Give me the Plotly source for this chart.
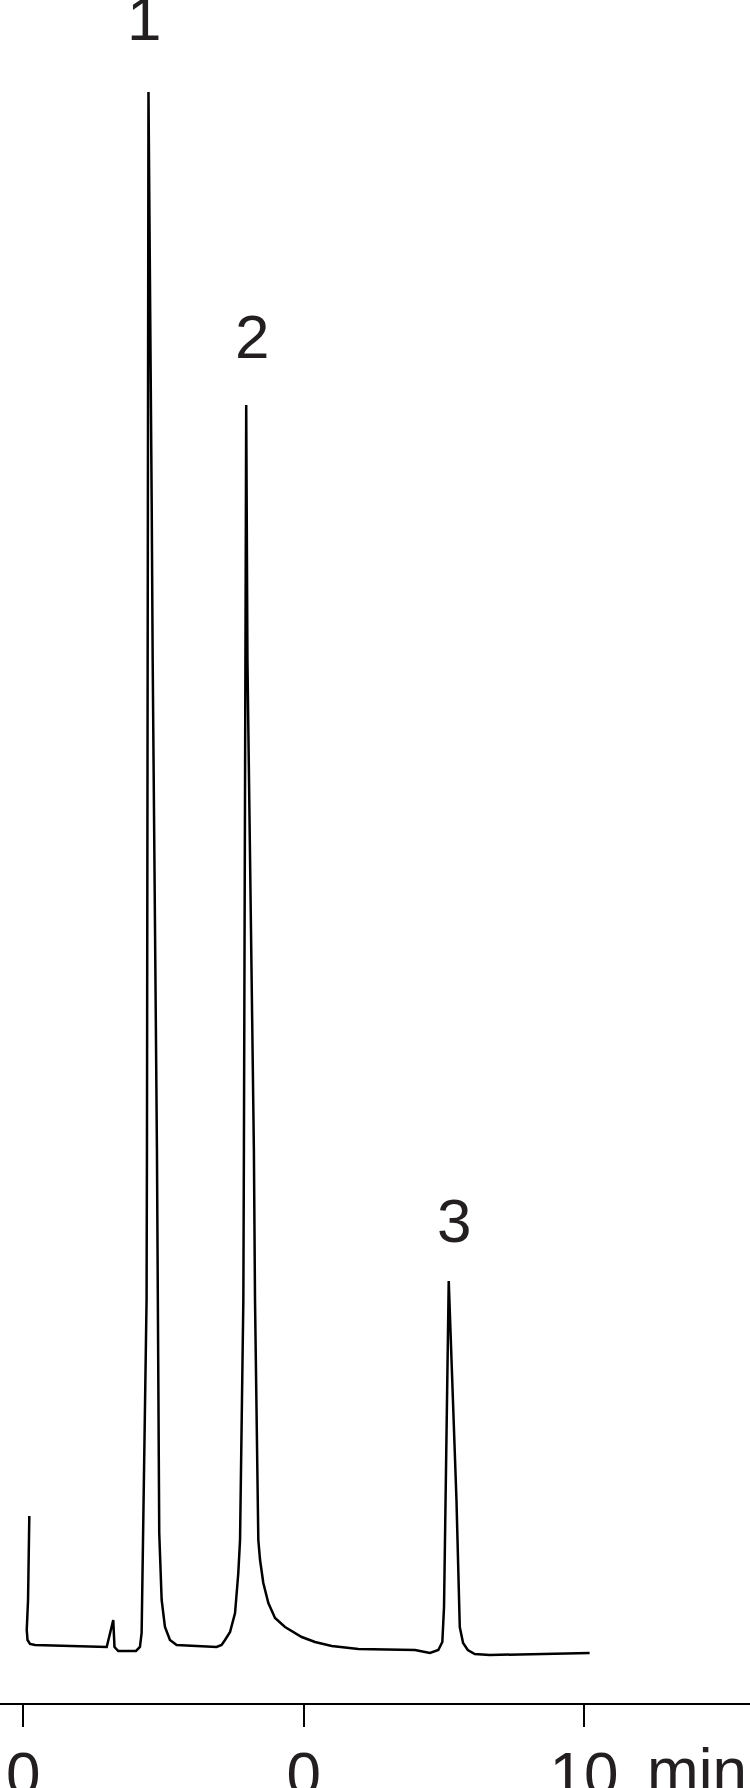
import plotly.graph_objects as go

# retention time (min) and detector signal (arbitrary units)
time_min = [0.107, 0.084, 0.061, 0.075, 0.119, 0.209, 1.487, 1.604, 1.626, 1.693,
            2.009, 2.080, 2.110, 2.150, 2.198, 2.205, 2.223, 2.232, 2.289, 2.307,
            2.383, 2.396, 2.424, 2.467, 2.526, 2.615, 2.734, 3.447, 3.536, 3.597,
            3.687, 3.776, 3.834, 3.865, 3.924, 3.934, 3.961, 3.975, 3.997, 4.112,
            4.132, 4.191, 4.222, 4.280, 4.370, 4.489, 4.667, 4.965, 5.202, 5.500,
            5.975, 6.570, 6.986, 7.164, 7.253, 7.401, 7.473, 7.503, 7.521, 7.587,
            7.725, 7.784, 7.843, 7.927, 8.051, 8.318, 10.100]
signal = [12.9, 4.5, 1.5, 0.5, 0.1, 0.0, -0.2, 2.5, -0.2, -0.6,
          -0.6, -0.2, 1.2, 14.5, 34.5, 49.5, 98.5, 155.3, 114.5, 98.5,
          49.5, 34.5, 11.2, 4.5, 1.8, 0.5, 0.0, -0.2, 0.0, 0.5,
          1.3, 3.2, 7.2, 10.5, 34.5, 49.5, 94.5, 124.0, 98.5, 49.5,
          34.5, 10.5, 8.5, 6.2, 4.2, 2.7, 1.8, 0.8, 0.3, -0.1,
          -0.4, -0.5, -0.5, -0.7, -0.8, -0.5, 0.3, 3.8, 10.5, 36.4,
          14.5, 1.8, 0.2, -0.5, -0.9, -1.0, -0.8]

peak_labels = ["1", "2", "3"]
peak_times = [2.232, 3.975, 7.587]
peak_heights = [155.3, 124.0, 36.4]

tick_vals = [0, 5, 10]
tick_text = ["0", "0", "10"]

FONT = "Liberation Sans, Arial, Helvetica, sans-serif"
INK = "#231f20"

fig = go.Figure(go.Scatter(
    x=time_min, y=signal, mode="lines",
    line=dict(color="black", width=2.5),
    hoverinfo="skip",
))

# label offsets above apex (px)
label_dx = [-4, 6, 5]
label_dy = [37, 32, 24]
for lab, t, h, dx, dy in zip(peak_labels, peak_times, peak_heights, label_dx, label_dy):
    fig.add_annotation(x=t, y=h, text=lab, showarrow=False,
                       xanchor="center", yanchor="bottom",
                       xshift=dx, yshift=dy,
                       font=dict(family=FONT, size=62, color=INK))

fig.add_annotation(x=12.01, y=0, yref="paper", text="min", showarrow=False,
                   xanchor="center", yanchor="top", yshift=-30,
                   font=dict(family=FONT, size=62, color=INK))

fig.update_layout(
    width=750, height=1788,
    margin=dict(l=0, r=0, t=0, b=85),
    plot_bgcolor="white", paper_bgcolor="white",
    showlegend=False,
    xaxis=dict(
        range=[-0.416, 12.96],
        automargin=False,
        showgrid=False, zeroline=False,
        showline=True, linecolor="black", linewidth=2,
        ticks="outside", ticklen=22, tickwidth=2, tickcolor="black",
        tickvals=tick_vals, ticktext=tick_text,
        ticklabelstandoff=-6,
        tickfont=dict(family=FONT, size=62, color=INK),
    ),
    yaxis=dict(
        range=[-5.8, 164.5],
        visible=False, automargin=False,
    ),
)

# drop the browser's default body margin so the figure sits at the page corner
fig.write_html("out.html", config={"displayModeBar": False},
               post_script="document.body.style.margin='0';")
